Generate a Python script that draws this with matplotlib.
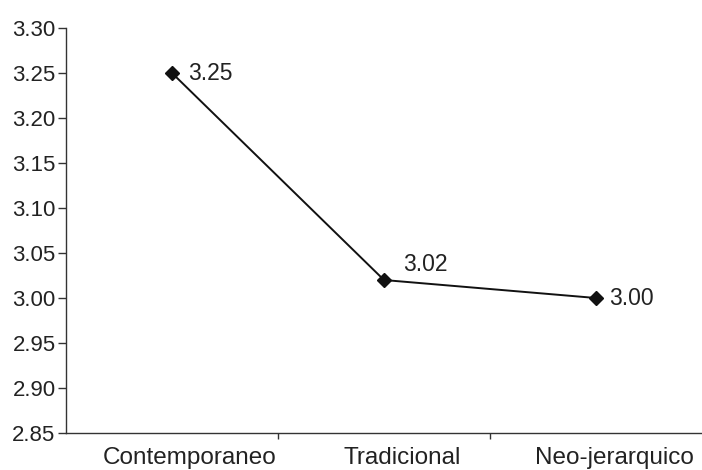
import matplotlib

matplotlib.use("Agg")
import matplotlib.pyplot as plt
import matplotlib.transforms as mtransforms

plt.rcParams["font.family"] = ["Liberation Sans", "DejaVu Sans"]

categories = ["Contemporaneo", "Tradicional", "Neo-jerarquico"]
values = [3.25, 3.02, 3.00]
value_labels = ["3.25", "3.02", "3.00"]
y_ticks = [2.85, 2.90, 2.95, 3.00, 3.05, 3.10, 3.15, 3.20, 3.25, 3.30]

# label offsets in pixels (dx, dy) relative to each point
label_offsets = [(16, 0), (19, 16), (13, 0)]

fig = plt.figure(figsize=(7.02, 4.70), dpi=100)
ax = fig.add_axes([0.094, 0.0787, 0.906, 0.8617])

x = list(range(len(categories)))
ax.plot(x, values, color="#111111", linewidth=1.4, marker="D",
        markersize=7.5, markerfacecolor="#111111", markeredgecolor="#111111")

for xi, v, txt, (dx, dy) in zip(x, values, value_labels, label_offsets):
    ax.annotate(txt, (xi, v), xytext=(dx * 0.72, dy * 0.72),
                textcoords="offset points", ha="left", va="center",
                fontsize=16.5, color="#222222")

ax.set_xlim(-0.5, 2.5)
ax.set_ylim(2.85, 3.30)
ax.set_yticks(y_ticks)
ax.set_yticklabels([f"{t:.2f}" for t in y_ticks])

ax.set_xticks(x)
ax.set_xticklabels(categories)
ax.set_xticks([0.5, 1.5], minor=True)
ax.tick_params(axis="x", which="major", length=0, pad=10, labelsize=17.5,
               labelcolor="#222222")
ax.tick_params(axis="x", which="minor", length=4, width=1, direction="out",
               color="#333333")
ax.tick_params(axis="y", length=6, width=1, direction="out", pad=1.5,
               labelsize=16, labelcolor="#222222", color="#333333")

# category labels sit a bit to the right of the points in the original
shift = mtransforms.ScaledTranslation(0.18, 0, fig.dpi_scale_trans)
for lab in ax.get_xticklabels():
    lab.set_transform(lab.get_transform() + shift)

for side in ["top", "right"]:
    ax.spines[side].set_visible(False)
for side in ["left", "bottom"]:
    ax.spines[side].set_color("#333333")
    ax.spines[side].set_linewidth(1.0)

fig.savefig("out.png", dpi=100)
